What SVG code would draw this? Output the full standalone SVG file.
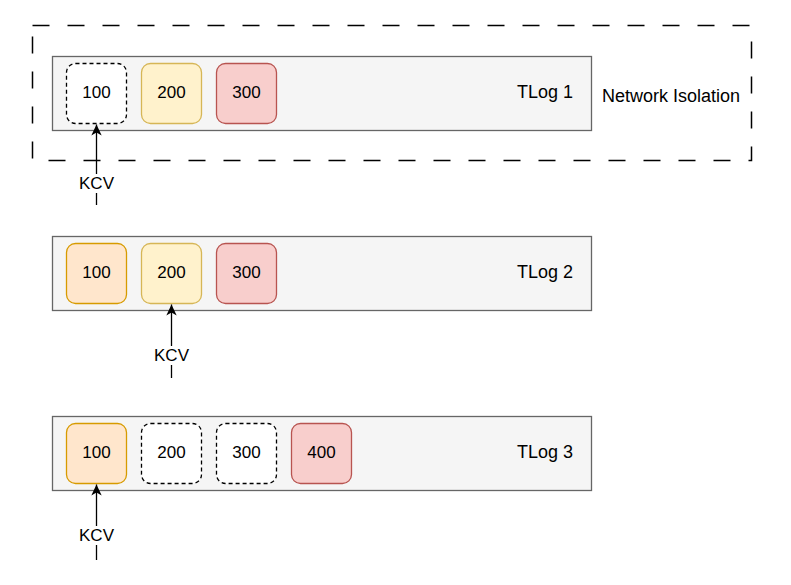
<svg xmlns="http://www.w3.org/2000/svg" width="791" height="585" viewBox="0 0 791 585">
<defs>
<style>
.tlog{fill:#f5f5f5;stroke:#666666;stroke-width:1.3}
.cell{stroke-width:1.3}
.empty{fill:#ffffff;stroke:#000000;stroke-dasharray:4 3}
.orange{fill:#ffe6cc;stroke:#d79b00}
.yellow{fill:#fff2cc;stroke:#d6b656}
.red{fill:#f8cecc;stroke:#b85450}
text{font-family:"Liberation Sans",Arial,sans-serif;fill:#000000}
.num{font-size:17px;text-anchor:middle;dominant-baseline:central}
.lbl{font-size:18px;dominant-baseline:central}
.kcv{font-size:17px;text-anchor:middle;dominant-baseline:central}
.conn{stroke:#000000;stroke-width:1.3;fill:none}
</style>
<marker id="arr" markerWidth="12" markerHeight="12" refX="11" refY="6" orient="auto" markerUnits="userSpaceOnUse">
<path d="M0,0.8 L11,6 L0,11.2 L3,6 Z" fill="#000000"/>
</marker>
</defs>
<rect width="791" height="585" fill="#ffffff"/>
<g id="network-isolation">
<rect x="32.5" y="25.5" width="719" height="135" fill="none" stroke="#000000" stroke-width="1.5" stroke-dasharray="17 18"/>
<text class="lbl" x="602" y="96">Network Isolation</text>
</g>
<g id="tlog1">
<rect class="tlog" x="52.5" y="56.5" width="539" height="74"/>
<text class="lbl" x="573" y="92" text-anchor="end">TLog 1</text>
</g>
<g id="tlog1-100"><rect class="cell empty" x="66.5" y="63.5" width="60" height="60" rx="9"/><text class="num" x="96.5" y="92">100</text></g>
<g id="tlog1-200"><rect class="cell yellow" x="141.5" y="63.5" width="60" height="60" rx="9"/><text class="num" x="171.5" y="92">200</text></g>
<g id="tlog1-300"><rect class="cell red" x="216.5" y="63.5" width="60" height="60" rx="9"/><text class="num" x="246.5" y="92">300</text></g>
<g id="tlog2">
<rect class="tlog" x="52.5" y="236.5" width="539" height="74"/>
<text class="lbl" x="573" y="272" text-anchor="end">TLog 2</text>
</g>
<g id="tlog2-100"><rect class="cell orange" x="66.5" y="243.5" width="60" height="60" rx="9"/><text class="num" x="96.5" y="272">100</text></g>
<g id="tlog2-200"><rect class="cell yellow" x="141.5" y="243.5" width="60" height="60" rx="9"/><text class="num" x="171.5" y="272">200</text></g>
<g id="tlog2-300"><rect class="cell red" x="216.5" y="243.5" width="60" height="60" rx="9"/><text class="num" x="246.5" y="272">300</text></g>
<g id="tlog3">
<rect class="tlog" x="52.5" y="416.5" width="539" height="74"/>
<text class="lbl" x="573" y="452" text-anchor="end">TLog 3</text>
</g>
<g id="tlog3-100"><rect class="cell orange" x="66.5" y="423.5" width="60" height="60" rx="9"/><text class="num" x="96.5" y="452">100</text></g>
<g id="tlog3-200"><rect class="cell empty" x="141.5" y="423.5" width="60" height="60" rx="9"/><text class="num" x="171.5" y="452">200</text></g>
<g id="tlog3-300"><rect class="cell empty" x="216.5" y="423.5" width="60" height="60" rx="9"/><text class="num" x="246.5" y="452">300</text></g>
<g id="tlog3-400"><rect class="cell red" x="291.5" y="423.5" width="60" height="60" rx="9"/><text class="num" x="321.5" y="452">400</text></g>
<g id="connectors">
<line class="conn" x1="96.5" y1="205" x2="96.5" y2="124.5" marker-end="url(#arr)"/>
<rect x="76" y="174" width="41" height="19" fill="#ffffff"/>
<text class="kcv" x="96.5" y="183.5">KCV</text>
<line class="conn" x1="171.5" y1="378" x2="171.5" y2="304.5" marker-end="url(#arr)"/>
<rect x="151" y="346" width="41" height="19" fill="#ffffff"/>
<text class="kcv" x="171.5" y="355">KCV</text>
<line class="conn" x1="96.5" y1="560" x2="96.5" y2="484.5" marker-end="url(#arr)"/>
<rect x="76" y="526" width="41" height="19" fill="#ffffff"/>
<text class="kcv" x="96.5" y="535">KCV</text>
</g>
</svg>
